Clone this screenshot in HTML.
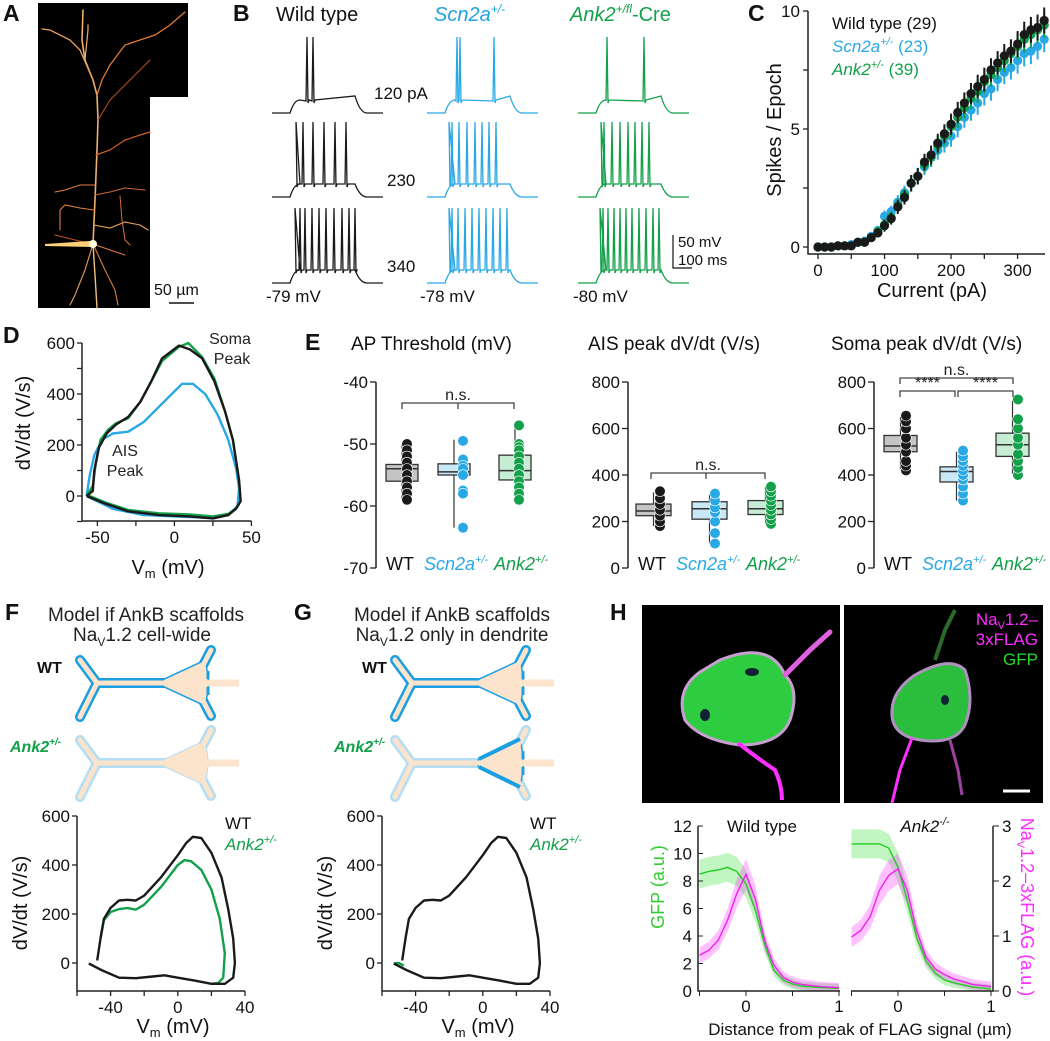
<!DOCTYPE html>
<html><head><meta charset="utf-8"><style>
html,body{margin:0;padding:0;background:#fff;}
svg{display:block;font-family:"Liberation Sans",Arial,sans-serif;}
</style></head><body>
<svg id="fig" width="1050" height="1041" viewBox="0 0 1050 1041" xmlns="http://www.w3.org/2000/svg">
<g font-weight="bold" font-size="23" fill="#111">
<text x="3" y="21">A</text>
<text x="233" y="21">B</text>
<text x="748" y="21">C</text>
<text x="3" y="343">D</text>
<text x="305" y="350">E</text>
<text x="5" y="620">F</text>
<text x="294" y="620">G</text>
<text x="610" y="620">H</text>
</g>
<g id="pA">
<polygon points="38,3 188,3 188,97 150,97 150,308 38,308" fill="#000"/>
<g fill="none" stroke-linecap="round">
<path d="M93,244 L95,200 L97,150 L98,120 L97,95 L93,80 L85,60 L82,40 L83,10" stroke="#f0b070" stroke-width="1.6"/>
<path d="M97,95 L102,80 L110,65 L125,45 L140,40 L155,35 L170,25 L185,12" stroke="#e07a30" stroke-width="1.3"/>
<path d="M93,80 L80,50 L70,40 L50,30 L42,29" stroke="#e8a060" stroke-width="1.3"/>
<path d="M85,60 L88,30 L88,25" stroke="#f0b070" stroke-width="1.2"/>
<path d="M98,120 L110,100 L130,80 L150,60" stroke="#c05020" stroke-width="1"/>
<path d="M96,155 L110,150 L125,140 L140,135 L150,132" stroke="#d06020" stroke-width="1.2"/>
<path d="M95,185 L80,185 L65,190 L55,192" stroke="#e08040" stroke-width="1.1"/>
<path d="M95,195 L110,192 L125,188 L145,190" stroke="#d06a30" stroke-width="1"/>
<path d="M94,210 L80,208 L65,205 L60,210 L60,230" stroke="#e08040" stroke-width="1.1"/>
<path d="M94,225 L110,228 L125,222 L140,225 L148,230" stroke="#e8a060" stroke-width="1.1"/>
<path d="M120,196 L122,220 L125,240 L130,245" stroke="#d07040" stroke-width="1"/>
<path d="M93,244 L85,270 L75,295 L70,305" stroke="#e8a060" stroke-width="1.1"/>
<path d="M93,244 L95,275 L97,308" stroke="#f0c080" stroke-width="1.4"/>
<path d="M93,244 L105,270 L115,290 L118,305" stroke="#e08040" stroke-width="1.1"/>
<path d="M93,244 L110,250 L125,255" stroke="#e08040" stroke-width="1"/>
<path d="M93,244 L75,240 L55,235" stroke="#c05020" stroke-width="1"/>
</g>
<path d="M45,244 L90,241 L92,247 L45,246 Z" fill="#ffcf7a"/>
<circle cx="93" cy="244" r="4" fill="#fffbe0"/>
<text x="154" y="295" font-size="16" fill="#111">50 µm</text>
<line x1="169" y1="303" x2="194" y2="303" stroke="#111" stroke-width="1.5"/>
</g>
<g id="pB">
<text x="276" y="21" font-size="20" fill="#111">Wild type</text>
<text x="434" y="21" font-size="20" fill="#1ea3e0" font-style="italic">Scn2a<tspan font-size="12" dy="-8">+/-</tspan></text>
<text x="570" y="21" font-size="20" fill="#13a04a"><tspan font-style="italic">Ank2</tspan><tspan font-size="12" dy="-8" font-style="italic">+/fl</tspan><tspan dy="8">-Cre</tspan></text>
<text x="374" y="99" font-size="17" fill="#111">120 pA</text>
<text x="387" y="186" font-size="17" fill="#111">230</text>
<text x="387" y="272" font-size="17" fill="#111">340</text>
<text x="266" y="302" font-size="17" fill="#111">-79 mV</text>
<text x="420" y="302" font-size="17" fill="#111">-78 mV</text>
<text x="573" y="302" font-size="17" fill="#111">-80 mV</text>
<path d="M673,235 L673,268 L692,268" stroke="#111" fill="none" stroke-width="1.2"/>
<text x="678" y="247" font-size="15" fill="#111">50 mV</text>
<text x="678" y="265" font-size="15" fill="#111">100 ms</text>
</g>
<g id="pC"></g>
<g id="pD"></g>
<g id="pE"></g>
<g id="pF">
<text x="146" y="621" font-size="19" text-anchor="middle" fill="#222">Model if AnkB scaffolds</text>
<text x="142" y="641" font-size="19" text-anchor="middle" fill="#222">Na<tspan font-size="12" dy="5">V</tspan><tspan dy="-5">1.2 cell-wide</tspan></text>
<text x="37" y="673" font-size="16" font-weight="bold" fill="#111">WT</text>
<text x="10" y="752" font-size="16" font-weight="bold" font-style="italic" fill="#13a04a">Ank2<tspan font-size="10" dy="-7">+/-</tspan></text>
</g>
<g id="pG">
<text x="452" y="621" font-size="19" text-anchor="middle" fill="#222">Model if AnkB scaffolds</text>
<text x="452" y="641" font-size="19" text-anchor="middle" fill="#222">Na<tspan font-size="12" dy="5">V</tspan><tspan dy="-5">1.2 only in dendrite</tspan></text>
<text x="362" y="673" font-size="16" font-weight="bold" fill="#111">WT</text>
<text x="334" y="752" font-size="16" font-weight="bold" font-style="italic" fill="#13a04a">Ank2<tspan font-size="10" dy="-7">+/-</tspan></text>
</g>
<g id="pH">
<rect x="642" y="605" width="198" height="198" fill="#000"/>
<rect x="844" y="605" width="199" height="198" fill="#000"/>
<g>
<path d="M720,660 Q770,640 785,675 Q800,690 790,720 Q780,745 740,745 Q700,740 685,720 Q675,690 700,672 Z" fill="#2ecc40" stroke="#c8a0d0" stroke-width="3"/>
<path d="M785,675 L810,650 L830,632" stroke="#e060e0" stroke-width="5" fill="none" stroke-linecap="round"/>
<path d="M738,743 Q760,760 775,770 Q782,785 782,800" stroke="#ff30ff" stroke-width="4" fill="none"/>
<ellipse cx="705" cy="715" rx="5" ry="6" fill="#123"/>
<ellipse cx="752" cy="672" rx="7" ry="4" fill="#123"/>
</g>
<g>
<path d="M915,675 Q950,655 965,670 Q975,700 965,725 Q955,745 920,740 Q890,735 892,710 Q893,690 915,675 Z" fill="#2bbd3c" stroke="#b090c0" stroke-width="3"/>
<path d="M935,660 L945,630 L955,610" stroke="#2a6a2a" stroke-width="4" fill="none"/>
<path d="M912,738 L900,770 L892,803" stroke="#ff30ff" stroke-width="3" fill="none"/>
<path d="M950,740 L958,770 L962,795" stroke="#a040a0" stroke-width="3" fill="none"/>
<ellipse cx="945" cy="700" rx="4" ry="5" fill="#123"/>
</g>
<text x="1038" y="625" font-size="17" text-anchor="end" fill="#ff2cff">Na<tspan font-size="11" dy="4">V</tspan><tspan dy="-4">1.2–</tspan></text>
<text x="1038" y="645" font-size="17" text-anchor="end" fill="#ff2cff">3xFLAG</text>
<text x="1038" y="665" font-size="17" text-anchor="end" fill="#22dd22">GFP</text>
<line x1="1003" y1="791" x2="1030" y2="791" stroke="#fff" stroke-width="3"/>
</g>
<g id="pHplot"></g>
</svg>
<script>
const NS='http://www.w3.org/2000/svg';
function mk(parent,tag,attrs,txt){const e=document.createElementNS(NS,tag);for(const k in attrs)e.setAttribute(k,attrs[k]);if(txt!==undefined)e.textContent=txt;parent.appendChild(e);return e;}
const $=id=>document.getElementById(id);
const BLK='#1a1a1a',BLU='#29a8e6',GRN='#13a04a';

/* ---------- Panel B data ---------- */
const bColumns=['wt','scn2a','ank2'];
const bColX=[272,427,578];
const bColors=[BLK,BLU,GRN];
const bRowBase=[113,197,283];
const bRowTop=[37,122,208];
const bSpikesWT=[[35,41],[24,31,41,52,63,74],[23,28,33,40,47,54,62,70,77,83]];
const bSpikesScn=[[30,33,67],[22,25,32,40,48,55,62,69],[22,25,31,38,45,52,59,66,73,80]];
const bSpikesAnk=[[29,66],[23,26,34,42,50,57,64,71],[22,25,30,36,42,48,54,61,68,75,81]];
const bSpikes=[bSpikesWT,bSpikesScn,bSpikesAnk];
(function(){const g=$('pB');
 for(let c=0;c<3;c++)for(let r=0;r<3;r++){
  const x0=bColX[c],b=bRowBase[r],top=bRowTop[r],pl=b-13;
  let d=`M${x0},${b} L${x0+18},${b} Q${x0+22},${pl} ${x0+28},${pl}`;
  const sp=bSpikes[c][r];
  let cx=x0+28;
  for(const s of sp){const sx=x0+s; if(sx>cx)d+=` L${sx-1},${pl+(r==0?1:0)}`; d+=` L${sx},${top} L${sx+1},${pl+3} L${sx+2},${pl}`; cx=sx+2;}
  d+=` L${x0+83},${pl+(r==0?-4:0)} Q${x0+88},${b} ${x0+95},${b} L${x0+111},${b}`;
  const p=mk(g,'path',{d:d,fill:'none',stroke:bColors[c],'stroke-width':1.3});
  
  
 }})();

/* ---------- Panel C data ---------- */
const cCurrents=[0,10,20,30,40,50,60,70,80,90,100,110,120,130,140,150,160,170,180,190,200,210,220,230,240,250,260,270,280,290,300,310,320,330,340];
const cWT=[0,0,0,0.05,0.05,0.05,0.2,0.2,0.4,0.6,0.9,1.2,1.7,2.1,2.7,3.0,3.6,3.9,4.4,4.8,5.2,5.7,6.1,6.5,6.8,7.1,7.5,7.8,8.1,8.3,8.6,9.0,9.2,9.3,9.6];
const cScn=[0,0,0,0.05,0.05,0.1,0.2,0.25,0.45,0.7,1.3,1.5,1.9,2.3,2.7,3.0,3.4,3.8,4.1,4.4,4.7,5.1,5.5,5.8,6.1,6.5,6.7,7.1,7.4,7.6,7.9,8.2,8.3,8.5,8.8];
const cAnk=[0,0,0,0.05,0.05,0.05,0.2,0.2,0.4,0.65,0.95,1.25,1.75,2.2,2.7,3.0,3.5,3.8,4.3,4.7,5.1,5.5,5.9,6.3,6.6,7.0,7.3,7.6,7.9,8.2,8.5,8.8,9.0,9.2,9.4];
const cSEM=[0,0,0,0.05,0.05,0.05,0.1,0.1,0.15,0.2,0.25,0.25,0.3,0.3,0.35,0.35,0.35,0.4,0.4,0.4,0.45,0.45,0.45,0.45,0.5,0.5,0.5,0.5,0.5,0.5,0.55,0.55,0.55,0.55,0.55];
const cXTicks=[0,100,200,300];
const cYTicks=[0,5,10];
(function(){const g=$('pC');
 const X=v=>818+v*0.6653,Y=v=>247-v*23.6;
 let e=mk(g,'path',{d:'M808,11 L808,254 L1045,254',fill:'none',stroke:'#222','stroke-width':1.5});
 
 for(let v=0;v<=350;v+=50){e=mk(g,'line',{x1:X(v),x2:X(v),y1:254,y2:259,stroke:'#222','stroke-width':1.3});}
 for(const v of cXTicks){e=mk(g,'text',{x:X(v),y:276,'font-size':17,'text-anchor':'middle',fill:'#111'},v);}
 for(let v=0;v<=10;v+=2.5){e=mk(g,'line',{x1:803,x2:808,y1:Y(v),y2:Y(v),stroke:'#222','stroke-width':1.3});}
 for(const v of cYTicks){e=mk(g,'text',{x:800,y:Y(v)+6,'font-size':17,'text-anchor':'end',fill:'#111'},v);}
 e=mk(g,'text',{x:932,y:297,'font-size':20,'text-anchor':'middle',fill:'#111'},'Current (pA)');
 e=mk(g,'text',{x:0,y:0,'font-size':20,'text-anchor':'middle',fill:'#111',transform:'translate(781,130) rotate(-90)'},'Spikes / Epoch');
 const series=[[cScn,BLU,'scn2a'],[cAnk,GRN,'ank2'],[cWT,BLK,'wt']];
 for(const [arr,col,nm] of series){
  arr.forEach((v,i)=>{const x=X(cCurrents[i]);
   const l=mk(g,'line',{x1:x,x2:x,y1:Y(v+cSEM[i]),y2:Y(v-cSEM[i]),stroke:col,'stroke-width':2});
   
   const c=mk(g,'circle',{cx:x,cy:Y(v),r:4.6,fill:col});
   });
 }
 e=mk(g,'text',{x:832,y:29,'font-size':17,fill:'#111'},'Wild type (29)');
 e=mk(g,'text',{x:832,y:52,'font-size':17,fill:BLU});e.innerHTML='<tspan font-style="italic">Scn2a</tspan><tspan font-size="11" dy="-7" font-style="italic">+/-</tspan><tspan dy="7"> (23)</tspan>';
 e=mk(g,'text',{x:832,y:75,'font-size':17,fill:GRN});e.innerHTML='<tspan font-style="italic">Ank2</tspan><tspan font-size="11" dy="-7" font-style="italic">+/-</tspan><tspan dy="7"> (39)</tspan>';
})();

/* ---------- Panel D data ---------- */
const dWT=[[-57,0],[-53,20],[-52,100],[-49,190],[-44,245],[-38,280],[-30,310],[-22,370],[-15,450],[-8,540],[3,590],[10,575],[18,540],[26,450],[33,330],[38,220],[42,60],[43,-20],[40,-50],[35,-75],[25,-88],[10,-80],[-10,-75],[-30,-60],[-45,-30],[-57,0]];
const dAnk=[[-57,0],[-53,40],[-51,130],[-48,220],[-43,260],[-38,285],[-30,305],[-22,370],[-15,450],[-8,530],[3,585],[9,600],[18,545],[26,460],[33,330],[38,220],[42,60],[43,-20],[40,-50],[35,-70],[25,-80],[10,-72],[-10,-68],[-30,-55],[-45,-25],[-57,5]];
const dScn=[[-57,0],[-55,80],[-52,160],[-47,220],[-40,245],[-30,252],[-20,290],[-10,350],[0,410],[5,440],[12,440],[20,400],[28,320],[35,220],[40,110],[42,30],[41,-40],[35,-72],[20,-85],[0,-80],[-20,-75],[-40,-50],[-57,0]];
const dXTicks=[-50,0,50];
const dYTicks=[0,200,400,600];
function loopAxes(g,pre,X,Y,xMin,xMax,yMin,yMax,xt,yt,xMinor,yMinor,axisX,axisY){
 let e=mk(g,'path',{d:`M${axisX},${Y(yMax)} L${axisX},${axisY} L${X(xMax)},${axisY}`,fill:'none',stroke:'#222','stroke-width':1.5});
 
 for(const v of xMinor){e=mk(g,'line',{x1:X(v),x2:X(v),y1:axisY,y2:axisY+5,stroke:'#222','stroke-width':1.3});}
 for(const v of xt){e=mk(g,'text',{x:X(v),y:axisY+22,'font-size':17,'text-anchor':'middle',fill:'#111'},v);}
 for(const v of yMinor){e=mk(g,'line',{x1:axisX-5,x2:axisX,y1:Y(v),y2:Y(v),stroke:'#222','stroke-width':1.3});}
 for(const v of yt){e=mk(g,'text',{x:axisX-7,y:Y(v)+6,'font-size':17,'text-anchor':'end',fill:'#111'},v);}
}
function pts(arr,X,Y){return arr.map(p=>X(p[0]).toFixed(1)+','+Y(p[1]).toFixed(1)).join(' ');}
(function(){const g=$('pD');
 const X=v=>82+(v+60)*1.54,Y=v=>496-v*0.255;
 loopAxes(g,'d',X,Y,-60,50,-100,600,dXTicks,dYTicks,[-50,-25,0,25,50],[-100,0,100,200,300,400,500,600],82,521);
 let e;
 for(const [arr,col,nm] of [[dScn,BLU,'scn2a'],[dAnk,GRN,'ank2'],[dWT,BLK,'wt']]){
  e=mk(g,'polyline',{points:pts(arr,X,Y),fill:'none',stroke:col,'stroke-width':2.4,'stroke-linejoin':'round'});
  }
 e=mk(g,'text',{x:0,y:0,'font-size':20,'text-anchor':'middle',fill:'#111',transform:'translate(30,423) rotate(-90)'},'dV/dt (V/s)');
 e=mk(g,'text',{x:168,y:574,'font-size':20,'text-anchor':'middle',fill:'#111'});e.innerHTML='V<tspan font-size="13" dy="4">m</tspan><tspan dy="-4"> (mV)</tspan>';
 e=mk(g,'text',{x:230,y:344,'font-size':16,'text-anchor':'middle',fill:'#222'},'Soma');
 e=mk(g,'text',{x:232,y:364,'font-size':16,'text-anchor':'middle',fill:'#222'},'Peak');
 e=mk(g,'text',{x:125,y:456,'font-size':16,'text-anchor':'middle',fill:'#222'},'AIS');
 e=mk(g,'text',{x:125,y:476,'font-size':16,'text-anchor':'middle',fill:'#222'},'Peak');
})();

/* ---------- Panel E data ---------- */
const eGroups=['WT','Scn2a','Ank2'];
const eThrBox=[[-59,-56,-54,-53.3,-50],[-63.5,-55,-54.5,-53.2,-49.3],[-59.5,-55.8,-54.3,-51.8,-47]];
const eThrDots=[[-50,-51,-52,-53,-54,-55,-56,-57,-58,-59],[-49.5,-52.5,-53.5,-54,-55,-57.5,-58,-63.5],[-47,-50,-50.5,-51,-52,-53,-54,-55,-56,-57,-58,-59]];
const eAisBox=[[180,225,245,275,325],[105,210,255,285,315],[190,230,255,290,350]];
const eAisDots=[[180,200,225,250,275,300,330],[105,150,200,240,260,290,320],[190,210,230,250,270,290,310,330,350]];
const eSomaBox=[[425,500,525,570,650],[290,370,415,435,500],[405,480,530,580,720]];
const eSomaDots=[[420,440,460,500,530,560,600,630,655],[290,320,350,380,400,420,440,460,480,505],[400,430,460,490,530,560,600,640,725]];
const eThrTicks=[-40,-50,-60,-70];
const eRateTicks=[0,200,400,600,800];
(function(){const g=$('pE');
 const fills=['#c4c4c4','#c8e8f6','#c6ecd3'],cols=[BLK,BLU,GRN],nms=['wt','scn2a','ank2'];
 function panel(pre,title,titleX,axX,Y,ticks,boxes,dots,bx,bw,dotX,yTop){
  let e=mk(g,'text',{x:titleX,y:350,'font-size':19,fill:'#111'},title);
  e=mk(g,'line',{x1:axX,x2:axX,y1:382,y2:568,stroke:'#222','stroke-width':1.5});
  for(const v of ticks){e=mk(g,'line',{x1:axX-6,x2:axX,y1:Y(v),y2:Y(v),stroke:'#222','stroke-width':1.3});
   e=mk(g,'text',{x:axX-8,y:Y(v)+6,'font-size':17,'text-anchor':'end',fill:'#111'},v);}
  for(let i=0;i<3;i++){const b=boxes[i],x=bx[i],cx=x+bw/2;
   e=mk(g,'line',{x1:cx,x2:cx,y1:Y(b[0]),y2:Y(b[4]),stroke:'#333','stroke-width':1.2});
   e=mk(g,'rect',{x:x,y:Y(b[3]),width:bw,height:Y(b[1])-Y(b[3]),fill:fills[i],stroke:'#333','stroke-width':1.3});
   e=mk(g,'line',{x1:x,x2:x+bw,y1:Y(b[2]),y2:Y(b[2]),stroke:'#333','stroke-width':1.5});
   for(const v of dots[i]){e=mk(g,'circle',{cx:dotX[i],cy:Y(v),r:5.3,fill:cols[i],stroke:'#fff','stroke-width':0.6});}
  }
  e=mk(g,'text',{x:axX+10,y:570,'font-size':18,fill:'#111'},'WT');
  e=mk(g,'text',{x:axX+48,y:570,'font-size':18,fill:BLU,'font-style':'italic'});e.innerHTML='Scn2a<tspan font-size="11" dy="-7">+/-</tspan>';
  e=mk(g,'text',{x:axX+118,y:570,'font-size':18,fill:GRN,'font-style':'italic'});e.innerHTML='Ank2<tspan font-size="11" dy="-7">+/-</tspan>';
 }
 function bracket(pre,x1,x2,y,lab,mid){let d=`M${x1},${y+6} L${x1},${y} L${x2},${y} L${x2},${y+6}`;if(mid)d+=` M${mid},${y} L${mid},${y+6}`;
  let e=mk(g,'path',{d:d,fill:'none',stroke:'#444','stroke-width':1.3});
  e=mk(g,'text',{x:(x1+x2)/2,y:y-3,'font-size':16,'text-anchor':'middle',fill:'#222'},lab);}
 const Yt=v=>382+(-40-v)*6.2;
 panel('e-threshold','AP Threshold (mV)',351,376,Yt,eThrTicks,eThrBox,eThrDots,[386,438,499],[32,23,31].length?32:32,[407,463,519]);
 const Yr=v=>568-v*0.2325;
 panel('e-ais','AIS peak dV/dt (V/s)',588,628,Yr,eRateTicks,eAisBox,eAisDots,[636,692,748],35,[660,715,771]);
 panel('e-soma','Soma peak dV/dt (V/s)',831,874,Yr,eRateTicks,eSomaBox,eSomaDots,[884,940,996],33,[906,963,1018]);
 bracket('e-threshold',402,514,403,'n.s.',458);
 bracket('e-ais',651,765,473,'n.s.',706);
 bracket('e-soma-wt-ank2',900,1013,378,'n.s.');
 bracket('e-soma-wt-scn2a',900,955,391,'****');
 bracket('e-soma-scn2a-ank2',958,1013,391,'****');
})();

/* ---------- Panels F/G schematic + loops ---------- */
const fWT=[[-48,10],[-46,100],[-44,180],[-40,225],[-35,255],[-30,258],[-25,255],[-20,275],[-10,350],[0,440],[5,490],[9,515],[14,510],[20,450],[26,350],[30,220],[33,100],[34,0],[33,-60],[28,-85],[20,-85],[10,-72],[0,-60],[-8,-50],[-15,-55],[-25,-62],[-35,-60],[-45,-30],[-53,-2]];
const fAnk=[[-46,100],[-44,175],[-40,208],[-35,220],[-30,224],[-25,218],[-20,238],[-10,310],[0,400],[4,420],[8,415],[14,380],[20,300],[25,180],[28,40],[27,-60],[24,-82],[20,-85]];
const gAnk=[[-53,-2],[-50,0],[-47,-10]];
const fXTicks=[-40,0,40];
const fYTicks=[0,200,400,600];
function neuron(g,ox,oy,outline,mode,pre){
 // mode: 'full' (all outlined), 'faded', 'dend'(only soma dendrite region)
 const peach='#fbe3cc';
 const tube=`M${ox+3},${oy-23} L${ox+20},${oy} L${ox+3},${oy+34} M${ox+20},${oy} L${ox+87},${oy} M${ox+134},${oy-33} L${ox+122},${oy-10} M${ox+134},${oy+33} L${ox+122},${oy+10}`;
 const soma=`M${ox+87},${oy-3} L${ox+128},${oy-22} L${ox+131},${oy} L${ox+128},${oy+22} L${ox+87},${oy+3} Z`;
 const axon=`M${ox+128},${oy} L${ox+162},${oy}`;
 let e=mk(g,'path',{d:axon,stroke:peach,'stroke-width':7,fill:'none'});
 const oc=mode==='faded'?'#b4def5':'#1a9fe3';
 if(mode!=='dend'){e=mk(g,'path',{d:tube,stroke:oc,'stroke-width':10,fill:'none','stroke-linecap':'round','stroke-linejoin':'round'});}
 else{e=mk(g,'path',{d:tube,stroke:'#b4def5','stroke-width':10,fill:'none','stroke-linecap':'round','stroke-linejoin':'round'});}
 e=mk(g,'path',{d:soma,fill:peach,stroke:mode==='full'?oc:(mode==='dend'?'#1a9fe3':oc),'stroke-width':mode==='faded'?2:3});
 e=mk(g,'path',{d:tube,stroke:peach,'stroke-width':5,fill:'none','stroke-linecap':'round','stroke-linejoin':'round'});
 e=mk(g,'path',{d:soma,fill:peach,stroke:'none'});
 e=mk(g,'path',{d:axon,stroke:peach,'stroke-width':6,fill:'none'});
 if(mode==='dend'){e=mk(g,'path',{d:`M${ox+87},${oy-4} L${ox+128},${oy-24} M${ox+87},${oy+4} L${ox+128},${oy+24}`,stroke:'#1a9fe3','stroke-width':4,fill:'none'});}
 if(mode!=='faded'){e=mk(g,'path',{d:`M${ox+131},${oy-12} L${ox+131},${oy-4} M${ox+131},${oy+4} L${ox+131},${oy+12}`,stroke:'#1a9fe3','stroke-width':3});}
}
function loopPanel(gid,pre,ox,series){const g=$(gid);
 const X=v=>ox+(v+60)*1.68,Y=v=>963-v*0.245;
 loopAxes(g,pre,X,Y,-60,40,-114,600,fXTicks,fYTicks,[-60,-40,-20,0,20,40],[0,200,400,600],ox,991);
 let e;
 for(const [arr,col,nm] of series){e=mk(g,'polyline',{points:pts(arr,X,Y),fill:'none',stroke:col,'stroke-width':2.4,'stroke-linejoin':'round'});}
 e=mk(g,'text',{x:0,y:0,'font-size':20,'text-anchor':'middle',fill:'#111',transform:`translate(${ox-50},903) rotate(-90)`},'dV/dt (V/s)');
 e=mk(g,'text',{x:ox+96,y:1033,'font-size':20,'text-anchor':'middle',fill:'#111'});e.innerHTML='V<tspan font-size="13" dy="4">m</tspan><tspan dy="-4"> (mV)</tspan>';
 e=mk(g,'text',{x:ox+148,y:829,'font-size':17,fill:'#111'},'WT');
 e=mk(g,'text',{x:ox+148,y:850,'font-size':17,fill:GRN,'font-style':'italic'});e.innerHTML='Ank2<tspan font-size="11" dy="-7">+/-</tspan>';
}
neuron($('pF'),77,683,'','full','f-wt-neuron');
neuron($('pF'),77,763,'','faded','f-ank2-neuron');
neuron($('pG'),392,683,'','full','g-wt-neuron');
neuron($('pG'),392,763,'','dend','g-ank2-neuron');
loopPanel('pF','f',77,[[fAnk,GRN,'ank2'],[fWT,BLK,'wt']]);
loopPanel('pG','g',382,[[gAnk,GRN,'ank2'],[fWT,BLK,'wt']]);

/* ---------- Panel H profiles ---------- */
const hDist=[-0.5,-0.4,-0.3,-0.2,-0.1,0,0.1,0.2,0.3,0.4,0.5,0.6,0.8,1.0];
const hGfpWT=[8.5,8.7,8.8,9.0,8.7,7.8,5.9,3.4,1.5,0.8,0.5,0.35,0.25,0.2];
const hFlagWT=[0.65,0.74,0.92,1.28,1.77,2.12,1.68,0.92,0.47,0.25,0.16,0.12,0.08,0.06];
const hGfpKO=[10.7,10.7,10.7,10.7,10.4,9.0,6.6,3.9,2.2,1.3,0.8,0.6,0.3,0.15];
const hFlagKO=[0.98,1.1,1.35,1.83,2.1,2.22,1.83,1.1,0.62,0.4,0.3,0.22,0.12,0.08];
const hGfpTicks=[0,2,4,6,8,10,12];
const hFlagTicks=[0,1,2,3];
(function(){const g=$('pHplot');
 const yG=v=>991-v*13.75,yM=v=>991-v*55;
 function band(arr,sd,X,Y,fill,nm,sc){const up=arr.map((v,i)=>[hDist[i],v+sd*(0.4+Math.min(1,v/sc))]);const lo=arr.map((v,i)=>[hDist[i],Math.max(0,v-sd*(0.4+Math.min(1,v/sc)))]).reverse();
  let e=mk(g,'polygon',{points:pts(up.concat(lo),X,Y),fill:fill,opacity:0.3});}
 function line(arr,X,Y,col,nm){let e=mk(g,'polyline',{points:pts(arr.map((v,i)=>[hDist[i],v]),X,Y),fill:'none',stroke:col,'stroke-width':1.4});}
 const XL=u=>746+u*93,XR=u=>898+u*93;
 band(hGfpWT,0.75,XL,yG,'#33dd33','h-wt-gfp-band',8);band(hFlagWT,0.2,XL,yM,'#ff33ff','h-wt-flag-band',2);
 band(hGfpKO,0.75,XR,yG,'#33dd33','h-ko-gfp-band',8);band(hFlagKO,0.2,XR,yM,'#ff33ff','h-ko-flag-band',2);
 line(hGfpWT,XL,yG,'#22cc22','h-wt-gfp-line');line(hFlagWT,XL,yM,'#ee22ee','h-wt-flag-line');
 line(hGfpKO,XR,yG,'#22cc22','h-ko-gfp-line');line(hFlagKO,XR,yM,'#ee22ee','h-ko-flag-line');
 let e=mk(g,'path',{d:'M698,826 L698,991 L840,991 M851,991 L993,991 L993,826',fill:'none',stroke:'#222','stroke-width':1.5});
 for(const v of hGfpTicks){e=mk(g,'line',{x1:698,x2:703,y1:yG(v),y2:yG(v),stroke:'#222'});
  e=mk(g,'text',{x:692,y:yG(v)+6,'font-size':17,'text-anchor':'end',fill:'#111'},v);}
 for(const v of hFlagTicks){e=mk(g,'line',{x1:993,x2:999,y1:yM(v),y2:yM(v),stroke:'#222'});
  e=mk(g,'text',{x:1002,y:yM(v)+6,'font-size':17,fill:'#111'},v);}
 for(const u of [-0.5,0,0.5,1]){for(const X of [XL,XR]){e=mk(g,'line',{x1:X(u),x2:X(u),y1:991,y2:996,stroke:'#222'});}}
 for(const [X,u] of [[XL,0],[XL,1],[XR,0],[XR,1]]){e=mk(g,'text',{x:X(u),y:1012,'font-size':17,'text-anchor':'middle',fill:'#111'},u);}
 e=mk(g,'text',{x:762,y:832,'font-size':17,'text-anchor':'middle',fill:'#111'},'Wild type');
 e=mk(g,'text',{x:925,y:832,'font-size':17,'text-anchor':'middle',fill:'#111','font-style':'italic'});e.innerHTML='Ank2<tspan font-size="11" dy="-7">-/-</tspan>';
 e=mk(g,'text',{x:860,y:1035,'font-size':17,'text-anchor':'middle',fill:'#111'},'Distance from peak of FLAG signal (µm)');
 e=mk(g,'text',{x:0,y:0,'font-size':18,'text-anchor':'middle',fill:'#33cc33',transform:'translate(664,887) rotate(-90)'},'GFP (a.u.)');
 e=mk(g,'text',{x:0,y:0,'font-size':18,'text-anchor':'middle',fill:'#ff2cff',transform:'translate(1021,907) rotate(90)'});e.innerHTML='Na<tspan font-size="11" dy="4">V</tspan><tspan dy="-4">1.2–3xFLAG (a.u.)</tspan>';
})();
</script>
</body></html>
